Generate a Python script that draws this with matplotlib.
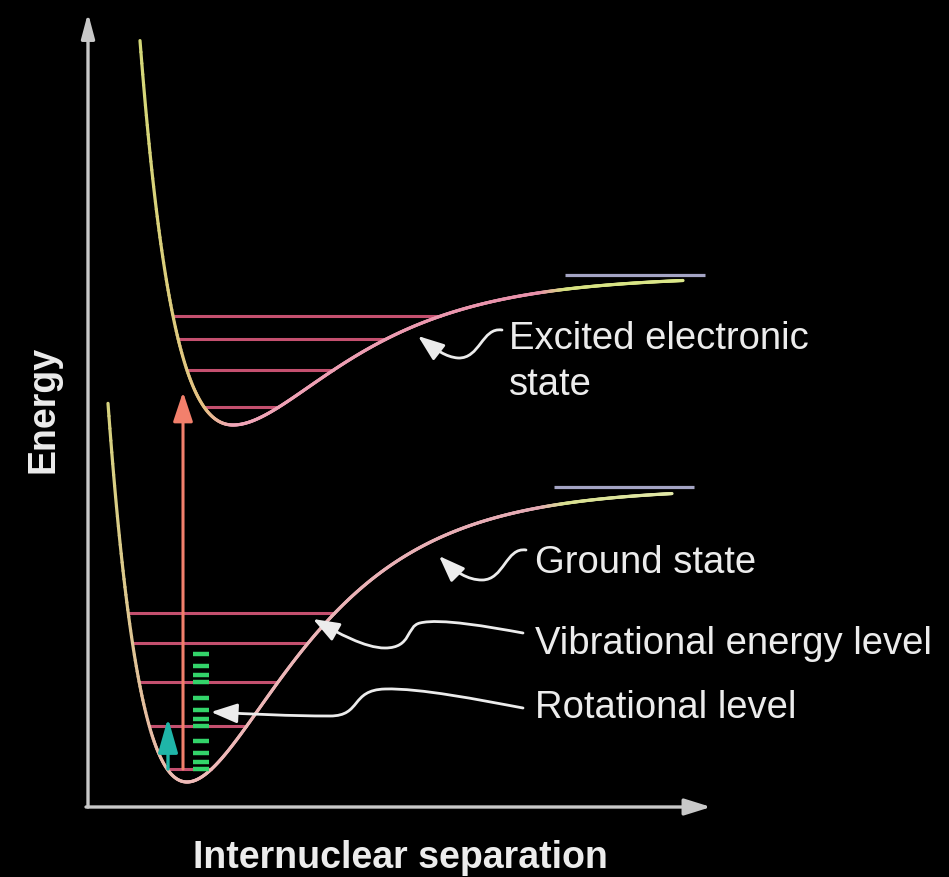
import numpy as np
import matplotlib
matplotlib.use("Agg")
import matplotlib.pyplot as plt
from matplotlib.collections import LineCollection
from matplotlib.patches import FancyArrowPatch
from matplotlib.path import Path
from matplotlib.colors import to_rgb

# energy in arbitrary units (0 = horizontal axis), separation in arbitrary units
ground_re = 187
ground_emin = 25
ground_depth = 294
ground_a = (0.0096, 0.0096)      # left wall, right side
ground_span = (108, 672)
ground_levels = [38, 81, 125, 164, 194]

excited_re = 233
excited_emin = 382
excited_depth = 149
excited_a = (0.0103, 0.0093)
excited_span = (140, 683)
excited_levels = [400, 437, 468, 491]

# rotational sublevels (offsets above the first three vibrational levels)
rot_offsets = [0, 7, 16, 28]
rot_parents = [0, 1, 2]

# transitions: (start energy, end energy)
electronic_jump = (38, 415)
vibrational_jump = (38, 89)

labels = ["Excited electronic\nstate", "Ground state",
          "Vibrational energy level", "Rotational level"]

H = 807  # pixel row of the energy zero, used for the pointer sketches


def flip(pts):
    return [(x, H - y) for x, y in pts]


def morse(r, re, emin, depth, a):
    d = r - re
    aa = np.where(d < 0, a[0], a[1])
    return emin + depth * (1 - np.exp(-aa * d)) ** 2


def intercepts(e, re, emin, depth, a):
    s = np.sqrt((e - emin) / depth)
    return re - np.log(1 + s) / a[0], re - np.log(1 - s) / a[1]


def grad_colors(x, stops):
    xs = [s[0] for s in stops]
    cols = np.array([to_rgb(s[1]) for s in stops])
    return np.stack([np.interp(x, xs, cols[:, i]) for i in range(3)], axis=1)


fig = plt.figure(figsize=(9.49, 8.77), dpi=100, facecolor="black")
ax = fig.add_axes([0, 0, 1, 1])
ax.set_facecolor("black")
ax.set_xlim(0, 949)
ax.set_ylim(H - 877, H)
ax.axis("off")

level_col = "#c4506f"
curve_lw = 2.3

states = [
    (ground_re, ground_emin, ground_depth, ground_a, ground_span, ground_levels,
     [(108, "#d6d27e"), (150, "#e6bca4"), (187, "#efbab8"), (540, "#e4aab4"),
      (565, "#d8e090"), (672, "#e2e8a8")]),
    (excited_re, excited_emin, excited_depth, excited_a, excited_span, excited_levels,
     [(140, "#d4d878"), (205, "#e6c084"), (233, "#f0a6b8"), (540, "#e890aa"),
      (565, "#d6e080"), (683, "#dce88a")]),
]

for re, emin, depth, a, span, levels, stops in states:
    for e in levels:
        x0, x1 = intercepts(e, re, emin, depth, a)
        ax.hlines(e, x0, x1, color=level_col, lw=2.2, zorder=2)
    r = np.linspace(span[0], span[1], 600)
    v = morse(r, re, emin, depth, a)
    pts = np.column_stack([r, v]).reshape(-1, 1, 2)
    segs = np.concatenate([pts[:-1], pts[1:]], axis=1)
    lc = LineCollection(segs, colors=grad_colors((r[:-1] + r[1:]) / 2, stops),
                        linewidths=curve_lw, capstyle="round", zorder=3)
    ax.add_collection(lc)
    # dissociation limit bar
    ax.hlines(emin + depth + 1, span[1] - 118, span[1] + 22,
              color="#a4a4c4", lw=2.3, zorder=3)

# rotational sublevels
rot_e = [ground_levels[i] + o for i in rot_parents for o in rot_offsets]
ax.hlines(rot_e, 193, 209, color="#33d46a", lw=3.2, zorder=4)

# electronic and vibrational transitions
ax.add_patch(FancyArrowPatch((183, electronic_jump[0]), (183, electronic_jump[1]),
                             arrowstyle="-|>,head_length=18,head_width=6",
                             color="#f2806c", lw=2.2, shrinkA=0, shrinkB=0, zorder=5))
ax.add_patch(FancyArrowPatch((168, vibrational_jump[0]), (168, vibrational_jump[1]),
                             arrowstyle="-|>,head_length=21,head_width=6",
                             color="#1fb5a8", lw=2.4, shrinkA=0, shrinkB=0, zorder=5))

# axes
axis_col = "#c8c8c8"
ax.add_patch(FancyArrowPatch((88, 0), (88, H - 13),
                             arrowstyle="-|>,head_length=15,head_width=4",
                             color=axis_col, lw=2.4, shrinkA=0, shrinkB=0))
ax.add_patch(FancyArrowPatch((86, 0), (711, 0),
                             arrowstyle="-|>,head_length=16,head_width=5",
                             color=axis_col, lw=2.4, shrinkA=0, shrinkB=0))

font = "Liberation Sans"
txt_col = "#ececec"
ax.text(400, H - 868, "Internuclear separation", ha="center", va="baseline",
        fontsize=27, fontweight="bold", color=txt_col, family=font)
ax.text(54, H - 409, "Energy", rotation=90, rotation_mode="anchor",
        ha="center", va="baseline", fontsize=27, fontweight="bold",
        color=txt_col, family=font)

# labels and pointers (baseline of the last line of each label)
label_pos = [(509, 395), (535, 573), (535, 654), (535, 718)]
for s, (x, y) in zip(labels, label_pos):
    ax.text(x, H - y, s, ha="left", va="baseline", fontsize=27.5,
            color=txt_col, family=font, linespacing=1.36)

pointer_paths = [
    [(502, 330), (482, 327), (480, 359), (458, 358), (446, 357), (436, 350), (418, 336)],
    [(526, 550), (506, 547), (504, 580), (482, 580), (468, 580), (455, 572), (439, 556)],
    [(523, 633), (490, 627), (440, 618), (420, 623), (406, 626), (412, 648), (385, 648),
     (365, 648), (338, 633), (313, 619)],
    [(523, 708), (480, 700), (420, 688), (385, 689), (350, 690), (362, 716), (330, 716),
     (290, 716), (250, 714), (211, 712)],
]
for p in pointer_paths:
    n = (len(p) - 1) // 3
    codes = [Path.MOVETO] + [Path.CURVE4] * (3 * n)
    path = Path(flip(p), codes)
    ax.add_patch(FancyArrowPatch(path=path,
                                 arrowstyle="-|>,head_length=16,head_width=6",
                                 color="#ececec", lw=2.0, zorder=6))

fig.savefig("out.png", dpi=100, facecolor="black")
